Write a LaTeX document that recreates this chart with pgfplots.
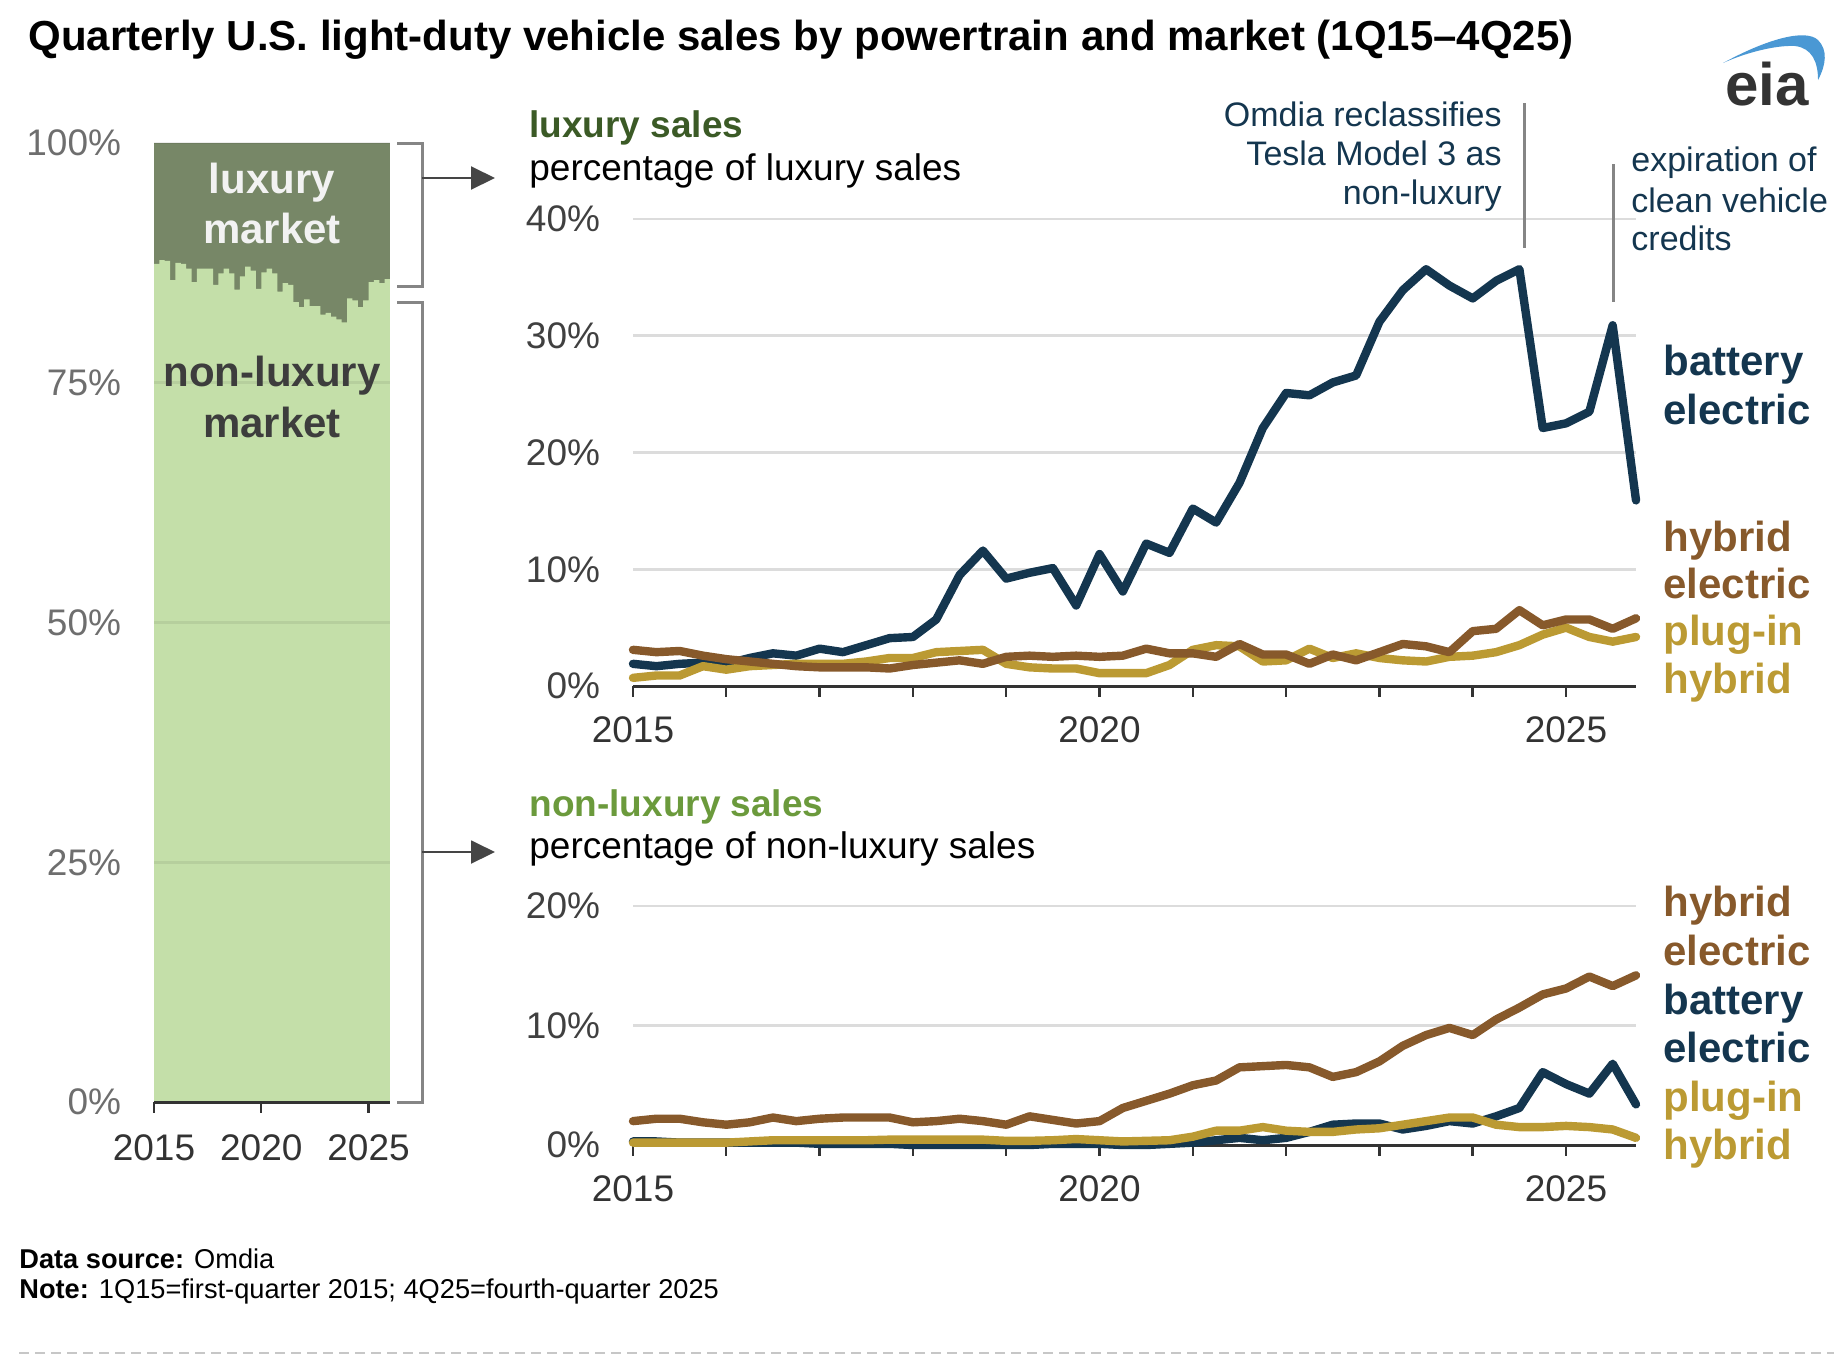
\documentclass[border=0pt]{standalone}
\usepackage{pgfplots}
\pgfplotsset{compat=1.18}
\usepackage{pgfplotstable}
\usepackage{fontspec}
\setmainfont{Liberation Sans}
\newfontfamily\notefont{Liberation Sans}
\usetikzlibrary{arrows.meta}

\definecolor{bev}{HTML}{14364F}
\definecolor{hev}{HTML}{87592B}
\definecolor{phev}{HTML}{BB9A33}
\definecolor{luxdark}{HTML}{778767}
\definecolor{nonlux}{HTML}{C4DFA9}
\definecolor{luxtxt}{HTML}{3B5A26}
\definecolor{nonluxtxt}{HTML}{6B9A3C}
\definecolor{gridc}{HTML}{DCDCDC}
\definecolor{axisc}{HTML}{333333}
\definecolor{ticklab}{HTML}{404040}
\definecolor{leftlab}{HTML}{6E6E6E}
\definecolor{eiablue}{HTML}{4A98D4}
\definecolor{brk}{HTML}{858585}

% luxury market shares by powertrain (percent of luxury sales)
\pgfplotstableread{
i bev hev phev
0 1.9 3.1 0.7
1 1.7 2.9 0.9
2 1.9 3.0 0.9
3 2.0 2.6 1.7
4 1.9 2.3 1.4
5 2.4 2.1 1.7
6 2.8 1.9 1.8
7 2.6 1.7 1.9
8 3.2 1.6 1.9
9 2.9 1.6 1.9
10 3.5 1.6 2.1
11 4.1 1.5 2.4
12 4.2 1.8 2.4
13 5.7 2.0 2.9
14 9.5 2.2 3.0
15 11.6 1.9 3.1
16 9.2 2.5 1.9
17 9.7 2.6 1.6
18 10.1 2.5 1.5
19 6.9 2.6 1.5
20 11.3 2.5 1.1
21 8.1 2.6 1.1
22 12.2 3.2 1.1
23 11.4 2.8 1.8
24 15.2 2.8 3.1
25 14.0 2.5 3.5
26 17.4 3.6 3.4
27 22.1 2.7 2.1
28 25.1 2.7 2.2
29 24.9 1.9 3.2
30 26.0 2.7 2.4
31 26.6 2.2 2.8
32 31.2 2.9 2.4
33 33.9 3.6 2.2
34 35.7 3.4 2.1
35 34.3 2.9 2.5
36 33.2 4.7 2.6
37 34.7 4.9 2.9
38 35.7 6.5 3.5
39 22.1 5.2 4.4
40 22.5 5.7 5.0
41 23.5 5.7 4.2
42 30.9 4.9 3.8
43 15.9 5.8 4.2
}\luxdata

% non-luxury market shares by powertrain (percent of non-luxury sales)
\pgfplotstableread{
i bev hev phev
0 0.3 2.0 0.2
1 0.3 2.2 0.2
2 0.2 2.2 0.2
3 0.2 1.9 0.2
4 0.2 1.7 0.2
5 0.2 1.9 0.3
6 0.2 2.3 0.4
7 0.2 2.0 0.4
8 0.1 2.2 0.4
9 0.1 2.3 0.4
10 0.1 2.3 0.4
11 0.1 2.3 0.45
12 0.0 1.9 0.45
13 0.0 2.0 0.45
14 0.0 2.2 0.45
15 0.0 2.0 0.45
16 0.0 1.7 0.35
17 0.0 2.4 0.35
18 0.1 2.1 0.4
19 0.1 1.8 0.5
20 0.1 2.0 0.4
21 0.0 3.1 0.3
22 0.0 3.7 0.35
23 0.1 4.3 0.4
24 0.2 5.0 0.7
25 0.4 5.4 1.2
26 0.6 6.5 1.2
27 0.4 6.6 1.5
28 0.6 6.7 1.2
29 1.1 6.5 1.1
30 1.7 5.7 1.1
31 1.8 6.1 1.3
32 1.8 7.0 1.4
33 1.3 8.3 1.7
34 1.6 9.2 2.0
35 2.0 9.8 2.3
36 1.8 9.2 2.3
37 2.4 10.5 1.7
38 3.1 11.5 1.5
39 6.1 12.6 1.5
40 5.1 13.1 1.6
41 4.3 14.1 1.5
42 6.8 13.3 1.3
43 3.4 14.2 0.6
}\nonluxdata

% non-luxury share of all sales (percent); last row closes the final step
\pgfplotstableread{
i nl
0 87.4
1 87.8
2 87.7
3 85.7
4 87.5
5 87.4
6 86.9
7 85.5
8 86.9
9 86.9
10 86.9
11 85.2
12 86.4
13 86.9
14 86.4
15 84.7
16 86.1
17 87.1
18 86.7
19 84.8
20 86.5
21 86.9
22 86.4
23 84.5
24 85.4
25 85.2
26 83.4
27 82.9
28 83.7
29 83.0
30 83.0
31 82.1
32 82.3
33 81.9
34 81.6
35 81.3
36 83.8
37 83.6
38 82.9
39 83.6
40 85.5
41 85.7
42 85.4
43 85.8
44 85.8
}\sharedata

\pgfplotsset{
  rchart/.style={
    scale only axis, anchor=south west,
    width=501.5pt,
    xmin=2015, xmax=2025.75, ymin=0,
    axis x line*=bottom, axis y line*=left,
    axis line style={-},
    x axis line style={axisc, line width=1.5pt},
    y axis line style={draw=none},
    xtick={2015,...,2025},
    xticklabels={2015,,,,,2020,,,,,2025},
    tick align=outside, major tick length=5.3pt,
    xtick style={axisc, line width=1.2pt},
    ytick style={draw=none},
    ymajorgrids, major grid style={gridc, line width=1.3pt},
    tick label style={font=\fontsize{18.5}{22}\selectfont},
    xticklabel style={anchor=north, inner sep=0pt, yshift=-10pt, text=axisc},
    yticklabel style={anchor=east, inner sep=0pt, xshift=-11pt, text=ticklab},
    clip=false,
  },
  serie/.style={line width=4.2pt, line join=round, line cap=round},
}

\begin{document}
\begin{tikzpicture}
\useasboundingbox (0pt,0pt) rectangle (917pt,-678pt);

% ---------------- left stacked share chart ----------------
\begin{axis}[
  at={(77pt,-551pt)}, anchor=south west, scale only axis,
  width=118pt, height=479.5pt,
  xmin=0, xmax=44, ymin=0, ymax=100,
  axis on top,
  axis x line*=bottom, axis y line*=left,
  axis line style={-},
  x axis line style={axisc, line width=1.5pt},
  y axis line style={draw=none},
  xtick={0,20,40}, xticklabels={2015,2020,2025},
  ytick={0,25,50,75,100}, yticklabels={0\%,25\%,50\%,75\%,100\%},
  tick align=outside, major tick length=5.3pt,
  xtick style={axisc, line width=1.2pt},
  ytick style={draw=none},
  ymajorgrids, major grid style={black, opacity=0.07, line width=1.3pt},
  tick label style={font=\fontsize{18.5}{22}\selectfont},
  xticklabel style={anchor=north, inner sep=0pt, yshift=-11pt, text=axisc},
  yticklabel style={anchor=east, inner sep=0pt, xshift=-11pt, text=leftlab},
]
\addplot[draw=none, fill=luxdark] coordinates {(0,100) (44,100)} \closedcycle;
\addplot[const plot, draw=none, fill=nonlux] table[x=i, y=nl] {\sharedata} \closedcycle;
\end{axis}

% ---------------- luxury chart ----------------
\begin{axis}[rchart,
  at={(316.5pt,-343pt)}, height=233.5pt, ymax=40,
  ytick={0,10,20,30,40}, yticklabels={0\%,10\%,20\%,30\%,40\%},
]
\addplot[serie, bev] table[x expr=2015+\thisrow{i}/4, y=bev] {\luxdata};
\addplot[serie, phev] table[x expr=2015+\thisrow{i}/4, y=phev] {\luxdata};
\addplot[serie, hev] table[x expr=2015+\thisrow{i}/4, y=hev] {\luxdata};
\end{axis}

% ---------------- non-luxury chart ----------------
\begin{axis}[rchart,
  at={(316.5pt,-572.5pt)}, height=119.5pt, ymax=20,
  ytick={0,10,20}, yticklabels={0\%,10\%,20\%},
]
\addplot[serie, bev] table[x expr=2015+\thisrow{i}/4, y=bev] {\nonluxdata};
\addplot[serie, phev] table[x expr=2015+\thisrow{i}/4, y=phev] {\nonluxdata};
\addplot[serie, hev] table[x expr=2015+\thisrow{i}/4, y=hev] {\nonluxdata};
\end{axis}

% ---------------- texts and decorations (pixel units) ----------------
\begin{scope}[x=0.5pt, y=-0.5pt, every node/.style={inner sep=0pt}]
% title
\node[anchor=base west] at (28,50) {\fontsize{21}{25}\selectfont\bfseries Quarterly U.S. light-duty vehicle sales by powertrain and market (1Q15–4Q25)};

% eia logo
\node[anchor=base west, text=axisc] at (1725,105) {\fontsize{30}{32}\selectfont\bfseries eia};
\fill[eiablue] (1723,63) .. controls (1765,40) and (1805,28) .. (1818,40)
  .. controls (1828,50) and (1826,65) .. (1818,80)
  .. controls (1818,62) and (1812,48) .. (1795,46)
  .. controls (1775,45) and (1745,53) .. (1723,63) -- cycle;

% left chart labels
\node[anchor=base, text={white!95!black}] at (272,193) {\fontsize{21}{24}\selectfont\bfseries luxury};
\node[anchor=base, text={white!95!black}] at (272,243) {\fontsize{21}{24}\selectfont\bfseries market};
\node[anchor=base, text={black!76}] at (272,386) {\fontsize{21}{24}\selectfont\bfseries non-luxury};
\node[anchor=base, text={black!76}] at (272,437) {\fontsize{21}{24}\selectfont\bfseries market};

% brackets and arrows
\draw[brk, line width=1.5pt] (397,143) -- (422,143) -- (422,286) -- (397,286);
\draw[brk, line width=1.5pt] (397,302) -- (422,302) -- (422,1102) -- (397,1102);
\draw[black!73, line width=1pt, -{Triangle[length=12pt, width=11.5pt]}] (422,178) -- (495,178);
\draw[black!73, line width=1pt, -{Triangle[length=12pt, width=11.5pt]}] (422,852) -- (495,852);

% panel headings
\node[anchor=base west, text=luxtxt] at (529,137) {\fontsize{18.5}{22}\selectfont\bfseries luxury sales};
\node[anchor=base west] at (529,180) {\fontsize{18.5}{22}\selectfont percentage of luxury sales};
\node[anchor=base west, text=nonluxtxt] at (529,816) {\fontsize{18.5}{22}\selectfont\bfseries non-luxury sales};
\node[anchor=base west] at (529,858) {\fontsize{18.5}{22}\selectfont percentage of non-luxury sales};

% annotations
\draw[brk, line width=1.5pt] (1524,103) -- (1524,248);
\draw[brk, line width=1.5pt] (1613,164) -- (1613,302);
\node[anchor=base east, text=bev] at (1502,126) {\fontsize{17}{20}\selectfont Omdia reclassifies};
\node[anchor=base east, text=bev] at (1502,165) {\fontsize{17}{20}\selectfont Tesla Model 3 as};
\node[anchor=base east, text=bev] at (1502,204) {\fontsize{17}{20}\selectfont non-luxury};
\node[anchor=base west, text=bev] at (1631,171) {\fontsize{17}{20}\selectfont expiration of};
\node[anchor=base west, text=bev] at (1631,212) {\fontsize{17}{20}\selectfont clean vehicle};
\node[anchor=base west, text=bev] at (1631,250) {\fontsize{17}{20}\selectfont credits};

% series labels
\begin{scope}[every node/.append style={anchor=base west, font=\fontsize{21}{24}\selectfont\bfseries}]
\node[text=bev]  at (1663,375) {battery};
\node[text=bev]  at (1663,424) {electric};
\node[text=hev]  at (1663,551) {hybrid};
\node[text=hev]  at (1663,598) {electric};
\node[text=phev] at (1663,645) {plug-in};
\node[text=phev] at (1663,693) {hybrid};
\node[text=hev]  at (1663,916) {hybrid};
\node[text=hev]  at (1663,965) {electric};
\node[text=bev]  at (1663,1014) {battery};
\node[text=bev]  at (1663,1062) {electric};
\node[text=phev] at (1663,1111) {plug-in};
\node[text=phev] at (1663,1159) {hybrid};
\end{scope}

% footnotes
\node[anchor=base west] at (19,1268) {\fontsize{13.6}{15}\selectfont\notefont\textbf{Data source:} Omdia};
\node[anchor=base west] at (19,1298) {\fontsize{13.6}{15}\selectfont\notefont\textbf{Note:} 1Q15=first-quarter 2015; 4Q25=fourth-quarter 2025};
\draw[black!22, line width=1pt, dash pattern=on 5pt off 3pt] (19,1353) -- (1834,1353);
\end{scope}
\end{tikzpicture}
\end{document}
